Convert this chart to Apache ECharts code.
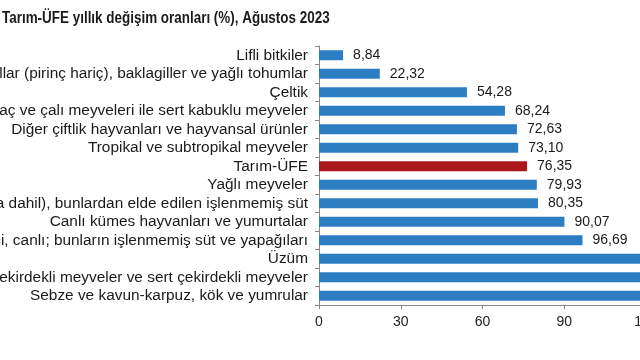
<!DOCTYPE html>
<html><head><meta charset="utf-8">
<script src="https://cdn.jsdelivr.net/npm/echarts@6/dist/echarts.min.js"></script>
<style>html,body{margin:0;padding:0;overflow:hidden;background:#fff;width:640px;height:360px}#c{width:700px;height:360px}</style>
</head><body><div id="c"></div>
<script>
const titleText = "Tarım-ÜFE yıllık değişim oranları (%), Ağustos 2023";
const categories = [
  "Lifli bitkiler",
  "Tahıllar (pirinç hariç), baklagiller ve yağlı tohumlar",
  "Çeltik",
  "Ağaç ve çalı meyveleri ile sert kabuklu meyveler",
  "Diğer çiftlik hayvanları ve hayvansal ürünler",
  "Tropikal ve subtropikal meyveler",
  "Tarım-ÜFE",
  "Yağlı meyveler",
  "Süt sığırları (manda dahil), bunlardan elde edilen işlenmemiş süt",
  "Canlı kümes hayvanları ve yumurtalar",
  "Koyun ve keçi, canlı; bunların işlenmemiş süt ve yapağıları",
  "Üzüm",
  "Yumuşak çekirdekli meyveler ve sert çekirdekli meyveler",
  "Sebze ve kavun-karpuz, kök ve yumrular"
];
const values = [8.84, 22.32, 54.28, 68.24, 72.63, 73.10, 76.35, 79.93, 80.35, 90.07, 96.69, 124.5, 131.2, 146.8];
const highlightCategory = "Tarım-ÜFE";
const xTicks = [0, 30, 60, 90, 120];

const chart = echarts.init(document.getElementById('c'), null, {renderer: 'canvas'});
chart.setOption({
  animation: false,
  graphic: [{type: 'text', x: 2, y: 11, scaleX: 0.84, originX: 0, originY: 0,
    style: {text: titleText, fill: '#1a1a1a', font: 'bold 16px "Liberation Sans", Arial, sans-serif'}}],
  grid: {left: 319, right: 54, top: 46, bottom: 55, containLabel: false, outerBoundsMode: 'none'},
  xAxis: {type: 'value', min: xTicks[0], max: xTicks[xTicks.length-1], interval: 30,
    axisLine: {show: true, lineStyle: {color: '#888'}},
    axisTick: {show: true, length: 4, lineStyle: {color: '#888'}},
    splitLine: {show: false},
    axisLabel: {color: '#222', fontSize: 14, margin: 10, fontFamily: 'Liberation Sans, Arial, sans-serif'}},
  yAxis: {type: 'category', inverse: true, data: categories,
    axisLine: {show: true, lineStyle: {color: '#888'}},
    axisTick: {show: true, length: 4, lineStyle: {color: '#888'}},
    axisLabel: {interval: 0, color: '#1a1a1a', fontSize: 15.4, margin: 11, fontFamily: 'Liberation Sans, Arial, sans-serif'}},
  series: [{type: 'bar', barWidth: 10,
    data: categories.map((c, i) => ({value: values[i], itemStyle: {color: c === highlightCategory ? '#ab181c' : '#2d7dc2'}})),
    label: {show: true, position: 'right', distance: 10, color: '#1a1a1a', fontSize: 14,
      fontFamily: 'Liberation Sans, Arial, sans-serif',
      formatter: p => p.value.toFixed(2).replace('.', ',')}
  }]
});
</script></body></html>
